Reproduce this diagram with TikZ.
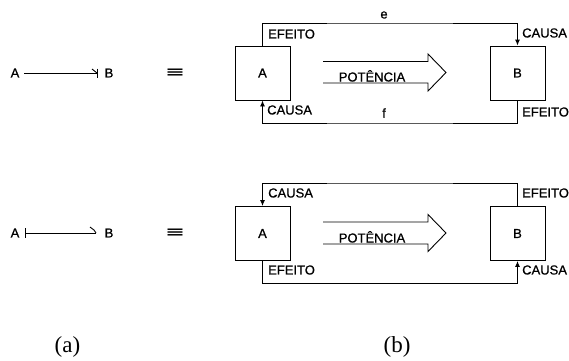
\documentclass[tikz,border=0pt]{standalone}
\usepackage{fontspec}
\setmainfont{Liberation Serif}
\newfontfamily\labelfont[FakeBold=0.8]{Liberation Sans}
\newfontfamily\symfont{DejaVu Sans}
\usetikzlibrary{arrows.meta}
\begin{document}
\begin{tikzpicture}[x=1pt,y=-1pt,
  lbl/.style={font=\labelfont\fontsize{13}{13}\selectfont, inner sep=0pt},
  sysbox/.style={draw, line width=0.9pt, minimum width=55pt, minimum height=54pt, inner sep=0pt, font=\labelfont\fontsize{13}{13}\selectfont},
  link/.style={line width=0.9pt},
  causal/.style={link, -{Latex[length=6pt,width=5pt]}},
  power/.style={line width=0.9pt, line join=miter},
  equiv/.style={font=\symfont\bfseries, inner sep=0pt},
  caption/.style={font=\fontsize{23}{23}\selectfont, inner sep=0pt}]
\useasboundingbox (0,0) rectangle (569,360);

% ---------- (a) bond-graph notation ----------
\node[lbl] (a1) at (15,73) {A};
\node[lbl] (b1) at (109,73) {B};
\coordinate (t1) at (97,73);
\draw[link] (24,73) coordinate (s1) -- (t1);
\draw[link] (t1) ++(0,-4.5) -- ++(0,9);
\draw[link] (t1) ++(-5,-4) -- (t1);
\node[equiv] (eq1) at (175,72.5) {\resizebox{20pt}{7.5pt}{≡}};

\node[lbl] (a2) at (15,233) {A};
\node[lbl] (b2) at (109,233) {B};
\coordinate (s2) at (25,233);
\coordinate (t2) at (96,233);
\draw[link] (s2) -- (t2);
\draw[link] (s2) ++(0,-5) -- ++(0,10);
\draw[link] (t2) ++(-6,-6) -- ++(4,3) -- (t2);
\node[equiv] (eq2) at (175,233) {\resizebox{20pt}{7.5pt}{≡}};

% ---------- (b) block diagrams, upper ----------
\node[sysbox] (A1) at (262.5,73) {A};
\node[sysbox] (B1) at (517.5,73) {B};
\coordinate (e1) at (390,23);
\coordinate (f1) at (390,123);
\draw[causal] (A1.north) |- (e1) -| (B1.north);
\draw[causal] (B1.south) |- (f1) -| (A1.south);
\node[lbl] at (384,15) {e};
\node[lbl] at (384,113) {f};
\node[lbl, anchor=west] at (268,34) {EFEITO};
\node[lbl, anchor=west] at (522,33) {CAUSA};
\node[lbl, anchor=west] at (267,110) {CAUSA};
\node[lbl, anchor=west] at (522,112) {EFEITO};
\draw[power] (323,61.5) -- (428,61.5) -- (428,54) -- (446,72.5) -- (428,91) -- (428,83) -- (323,83);
\node[lbl, anchor=base] at (372,81.5) {POTÊNCIA};

% ---------- (b) block diagrams, lower ----------
\node[sysbox] (A2) at (262.5,233.5) {A};
\node[sysbox] (B2) at (517.5,233.5) {B};
\coordinate (g2) at (390,183);
\coordinate (h2) at (390,283);
\draw[causal] (B2.north) |- (g2) -| (A2.north);
\draw[causal] (A2.south) |- (h2) -| (B2.south);
\node[lbl, anchor=west] at (268,193) {CAUSA};
\node[lbl, anchor=west] at (522,193) {EFEITO};
\node[lbl, anchor=west] at (268,270) {EFEITO};
\node[lbl, anchor=west] at (522,270) {CAUSA};
\draw[power] (323,222) -- (428,222) -- (428,214.5) -- (446,233) -- (428,251.5) -- (428,244) -- (323,244);
\node[lbl, anchor=base] at (372,242.5) {POTÊNCIA};

% ---------- captions ----------
\node[caption] (capa) at (67.5,347) {(a)};
\node[caption] (capb) at (397,347) {(b)};
\end{tikzpicture}
\end{document}
